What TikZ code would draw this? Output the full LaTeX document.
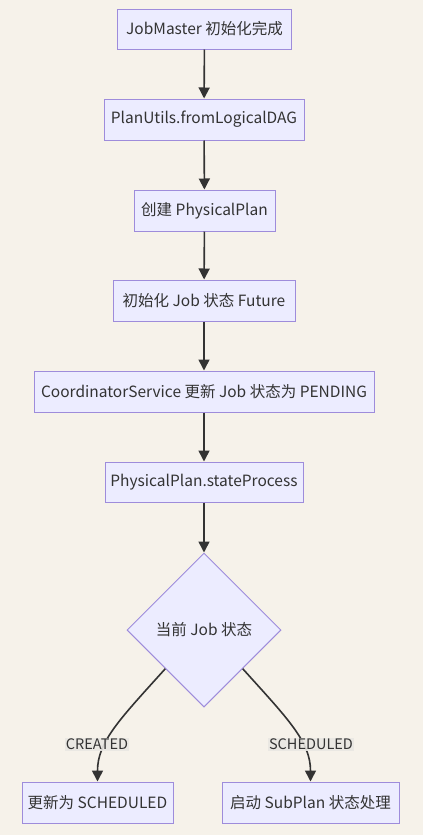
\documentclass[tikz,border=0pt]{standalone}
\usepackage{fontspec}
\setmainfont{Noto Sans CJK SC}
\usetikzlibrary{shapes.geometric,arrows.meta}
\definecolor{bg}{HTML}{F6F2EA}
\definecolor{boxfill}{HTML}{ECECFF}
\definecolor{boxline}{HTML}{9E8CDB}
\definecolor{ink}{HTML}{333333}
\definecolor{lblbg}{HTML}{E9E7E3}
\tikzset{
  box/.style={draw=boxline, fill=boxfill, line width=1pt, rectangle, inner sep=0pt,
    text=ink, font=\fontsize{15.5}{18}\selectfont, anchor=center},
  dec/.style={draw=boxline, fill=boxfill, line width=1pt, diamond, aspect=1, inner sep=0pt,
    minimum width=154pt, minimum height=154pt, text=ink, font=\fontsize{15.5}{18}\selectfont},
  flow/.style={draw=ink, line width=1.6pt, -{Triangle[length=11pt,width=11pt]}},
  lbl/.style={fill=lblbg, fill opacity=0.9, text opacity=1, text=ink, inner xsep=1pt, inner ysep=1pt,
    font=\fontsize{14.5}{17}\selectfont}
}
\begin{document}
\begin{tikzpicture}[x=1pt,y=-1pt]
\fill[bg] (0,0) rectangle (423,835);
\useasboundingbox (0,0) rectangle (423,835);
\node[box, minimum width=174pt, minimum height=40pt] (n1) at (204.5,29) {JobMaster 初始化完成};
\node[box, minimum width=200pt, minimum height=41pt] (n2) at (204,119.5) {PlanUtils.fromLogicalDAG};
\node[box, minimum width=141pt, minimum height=41pt] (n3) at (204.5,210.5) {创建 PhysicalPlan};
\node[box, minimum width=182pt, minimum height=41pt] (n4) at (204,300.5) {初始化 Job 状态 Future};
\node[box, minimum width=340pt, minimum height=41pt] (n5) at (204,391.5) {CoordinatorService 更新 Job 状态为 PENDING};
\node[box, minimum width=198pt, minimum height=40pt] (n6) at (204,482) {PhysicalPlan.stateProcess};
\node[dec] (d) at (204,630) {当前 Job 状态};
\node[box, minimum width=151pt, minimum height=41pt] (n7) at (97.5,802.5) {更新为 SCHEDULED};
\node[box, minimum width=177pt, minimum height=41pt] (n8) at (310.5,802.5) {启动 SubPlan 状态处理};
\draw[flow] (n1) -- (n2);
\draw[flow] (n2) -- (n3);
\draw[flow] (n3) -- (n4);
\draw[flow] (n4) -- (n5);
\draw[flow] (n5) -- (n6);
\draw[flow] (n6) -- (d);
\draw[flow] (d.south west) .. controls ++(-45,50) and ++(0,-40) .. (n7.north);
\draw[flow] (d.south east) .. controls ++(45,50) and ++(0,-40) .. (n8.north);
\node[lbl] (l1) at (97,744.5) {CREATED};
\node[lbl] (l2) at (311,744.5) {SCHEDULED};
\end{tikzpicture}
\end{document}
